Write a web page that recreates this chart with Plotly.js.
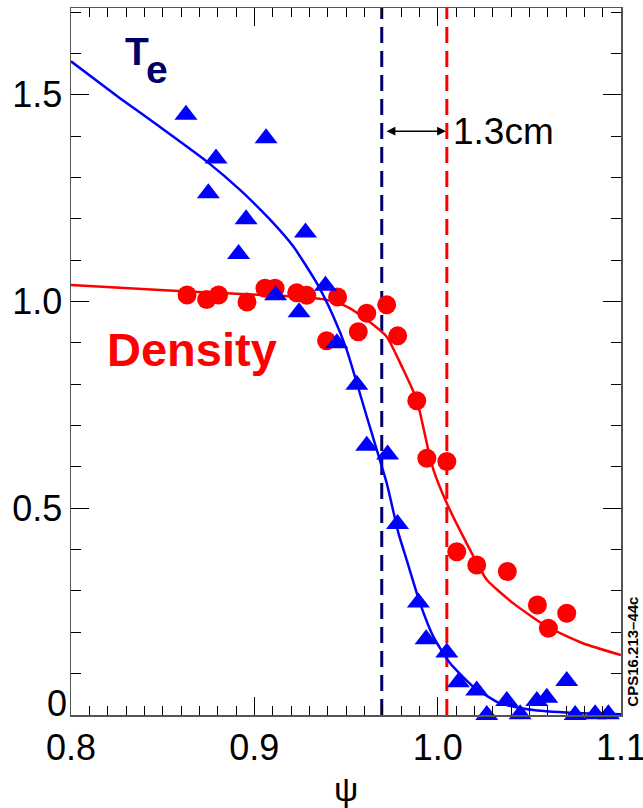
<!DOCTYPE html>
<html>
<head>
<meta charset="utf-8">
<script src="https://cdn.plot.ly/plotly-3.0.1.min.js"></script>
<style>
  html, body { margin: 0; padding: 0; background: #fff; }
  #chart { width: 643px; height: 808px; }
</style>
</head>
<body>
<div id="chart"></div>
<script>
// ---- measured Te (triangles) ----
const psiTe = [0.8627, 0.9064, 0.8791, 0.8749, 0.8955, 0.9279, 0.8914, 0.9388, 0.9116, 0.9244,
               0.9450, 0.9559, 0.9613, 0.9727, 0.9781, 0.9895, 0.9937, 1.0050, 1.0113, 1.0213,
               1.0268, 1.0377, 1.0450, 1.0541, 1.0595, 1.0704, 1.0750, 1.0859, 1.0931];
const te     = [1.452, 1.395, 1.346, 1.262, 1.199, 1.167, 1.115, 1.038, 1.015, 0.974,
               0.899, 0.799, 0.651, 0.630, 0.462, 0.272, 0.183, 0.151, 0.079, 0.059,
               0.000, 0.034, 0.002, 0.034, 0.042, 0.082, 0.000, 0.002, 0.002];

// ---- measured density (circles) ----
const psiNe = [0.8633, 0.8740, 0.8805, 0.8960, 0.9058, 0.9113, 0.9231, 0.9286, 0.9454, 0.9394,
               0.9567, 0.9613, 0.9722, 0.9782, 0.9886, 0.9941, 1.0050, 1.0104, 1.0213, 1.0380,
               1.0544, 1.0604, 1.0704];
const ne     = [1.016, 1.005, 1.016, 0.999, 1.032, 1.032, 1.021, 1.015, 1.011, 0.905,
               0.927, 0.972, 0.992, 0.917, 0.760, 0.621, 0.613, 0.395, 0.363, 0.347,
               0.266, 0.210, 0.246];

// ---- fitted profiles ----
const psiTeFit = [0.800, 0.8267, 0.8486, 0.8740, 0.8922, 0.9086, 0.9213, 0.9340, 0.9431, 0.9504,
                  0.9559, 0.9613, 0.9668, 0.9722, 0.9786, 0.9831, 0.9904, 0.9977, 1.0068, 1.0195,
                  1.0340, 1.0522, 1.0795, 1.100];
const teFit    = [1.581, 1.492, 1.422, 1.339, 1.270, 1.198, 1.133, 1.045, 0.964, 0.883,
                  0.803, 0.722, 0.641, 0.561, 0.440, 0.375, 0.270, 0.189, 0.125, 0.068,
                  0.028, 0.012, 0.004, 0.002];
const psiNeFit = [0.800, 0.8486, 0.8849, 0.9213, 0.9395, 0.9504, 0.9613, 0.9722, 0.9813,
                  0.9886, 0.9949, 0.9977, 1.0050, 1.0140, 1.0268, 1.0413, 1.0595, 1.0795, 1.100];
const neFit    = [1.040, 1.028, 1.020, 1.012, 1.004, 0.988, 0.956, 0.915, 0.835,
                  0.762, 0.641, 0.593, 0.512, 0.431, 0.327, 0.270, 0.214, 0.173, 0.145];

// ---- separatrix / reference lines (Te, density) ----
const separatrixPsi = [0.9695, 1.005];
const shiftLabel = '1.3cm';
const shiftLevel = 1.412;

// ---- ticks ----
const xTickVals = [0.8, 0.9, 1.0, 1.1];
const xTickText = ['0.8', '0.9', '1.0', '1.1'];
const yTickVals = [0, 0.5, 1.0, 1.5];
const yTickText = ['0', '0.5', '1.0', '1.5'];
// the "0" label sits slightly above its tick in the original, so it is drawn separately
const yTickTextDrawn = yTickText.map((t, i) => (yTickVals[i] === 0 ? '' : t));
const zeroLabelLift = 0.029;

const FONT = 'Liberation Sans, Arial, sans-serif';
const NAVY = '#000066';
const BLUE = '#0000ff';
const RED = '#ff0000';

const traces = [
  { x: psiNeFit, y: neFit, mode: 'lines', line: { color: RED, width: 2.5, shape: 'spline', smoothing: 0.5 },
    hoverinfo: 'skip' },
  { x: psiTeFit, y: teFit, mode: 'lines', line: { color: BLUE, width: 2.5, shape: 'spline', smoothing: 0.5 },
    hoverinfo: 'skip' },
  { x: psiNe, y: ne, mode: 'markers', marker: { symbol: 'circle', size: 19, color: RED, line: { width: 0 } },
    cliponaxis: false },
  { x: psiTe, y: te, mode: 'markers', marker: { symbol: 'triangle-up', size: 20, color: BLUE, line: { width: 0 } },
    cliponaxis: false }
];

const axisCommon = {
  showgrid: false, zeroline: false, showline: true, linecolor: '#555', linewidth: 1.5,
  mirror: 'allticks', ticks: 'inside', ticklen: 18, tickwidth: 1.2, tickcolor: '#000',
  ticklabeloverflow: 'allow',
  tickfont: { family: FONT, size: 36, color: '#000' }
};

const layout = {
  width: 643, height: 808,
  margin: { l: 71, r: 22, t: 8, b: 93 },
  paper_bgcolor: '#fff', plot_bgcolor: '#fff',
  showlegend: false,
  font: { family: FONT, color: '#000' },
  xaxis: Object.assign({}, axisCommon, {
    range: [0.8, 1.1], tickmode: 'array', tickvals: xTickVals, ticktext: xTickText,
    minor: { dtick: 0.01, tick0: 0.8, ticks: 'inside', ticklen: 9, tickwidth: 1, tickcolor: '#000', showgrid: false },
    title: { text: 'ψ', font: { family: FONT, size: 34, color: '#000' }, standoff: 11 }
  }),
  yaxis: Object.assign({}, axisCommon, {
    range: [0, 1.71], tickmode: 'array', tickvals: yTickVals, ticktext: yTickTextDrawn,
    minor: { dtick: 0.1, tick0: 0, ticks: 'inside', ticklen: 10, tickwidth: 1, tickcolor: '#000', showgrid: false }
  }),
  shapes: [
    { type: 'line', xref: 'x', yref: 'paper', x0: separatrixPsi[0], x1: separatrixPsi[0], y0: 0, y1: 1,
      line: { color: NAVY, width: 3, dash: '16px,8px' }, layer: 'below' },
    { type: 'line', xref: 'x', yref: 'paper', x0: separatrixPsi[1], x1: separatrixPsi[1], y0: 0, y1: 1,
      line: { color: RED, width: 3, dash: '16px,8px' }, layer: 'below' }
  ],
  annotations: [
    { x: 0, y: yTickVals[0] + zeroLabelLift, xref: 'paper', yref: 'y', xanchor: 'right', yanchor: 'middle',
      xshift: -2, text: yTickText[0], showarrow: false, font: { family: FONT, size: 36, color: '#000' } },
    { x: separatrixPsi[1] - 0.0005, y: shiftLevel, ax: separatrixPsi[0] + 0.0018, ay: shiftLevel,
      xref: 'x', yref: 'y', axref: 'x', ayref: 'y', text: '', showarrow: true,
      arrowhead: 2, arrowside: 'end+start', arrowsize: 1.1, arrowwidth: 1.6, arrowcolor: '#000', standoff: 0, startstandoff: 0 },
    { x: separatrixPsi[1] + 0.0025, y: shiftLevel, xref: 'x', yref: 'y', xanchor: 'left', yanchor: 'middle',
      text: shiftLabel, showarrow: false, font: { family: FONT, size: 37, color: '#000' } },
    { x: 0.8362, y: 1.605, xref: 'x', yref: 'y', xanchor: 'center', yanchor: 'middle',
      text: '<b>T</b>', showarrow: false, font: { family: FONT, size: 39, color: NAVY } },
    { x: 0.8468, y: 1.562, xref: 'x', yref: 'y', xanchor: 'center', yanchor: 'middle',
      text: '<b>e</b>', showarrow: false, font: { family: FONT, size: 39, color: NAVY } },
    { x: 0.866, y: 0.885, xref: 'x', yref: 'y', xanchor: 'center', yanchor: 'middle',
      text: '<b>Density</b>', showarrow: false, font: { family: FONT, size: 47, color: RED } },
    { x: 1.021, y: 0.089, xref: 'paper', yref: 'paper', xanchor: 'center', yanchor: 'middle', textangle: -90,
      text: '<b>CPS16.213–44c</b>', showarrow: false, font: { family: FONT, size: 15, color: '#000' } }
  ]
};

Plotly.newPlot('chart', traces, layout, { displayModeBar: false, staticPlot: true });
</script>
</body>
</html>
